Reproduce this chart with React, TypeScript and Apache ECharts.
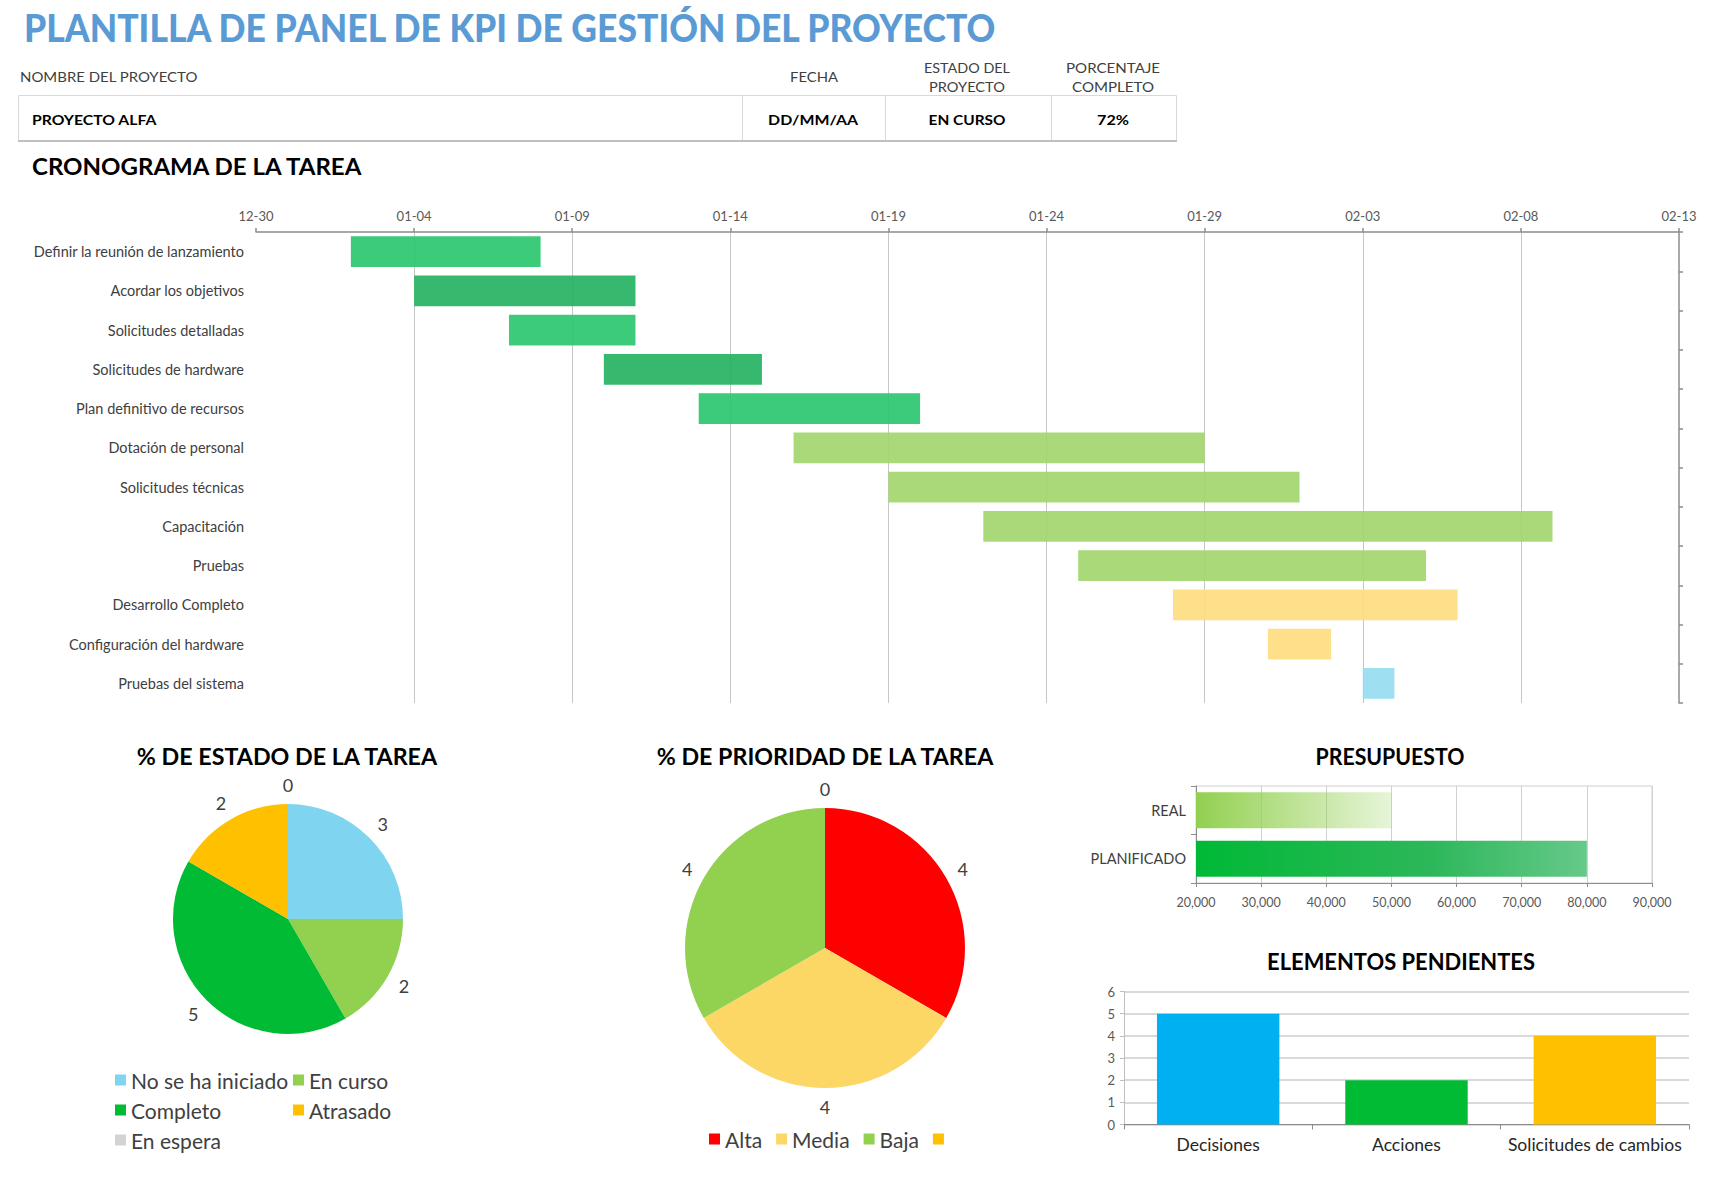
import React, { useEffect, useRef } from "react";
import * as echarts from "echarts";

// ---------- DATA ----------
const taskNames = [
  "Definir la reunión de lanzamiento",
  "Acordar los objetivos",
  "Solicitudes detalladas",
  "Solicitudes de hardware",
  "Plan definitivo de recursos",
  "Dotación de personal",
  "Solicitudes técnicas",
  "Capacitación",
  "Pruebas",
  "Desarrollo Completo",
  "Configuración del hardware",
  "Pruebas del sistema",
];
const taskStarts = [
  "2024-01-02", "2024-01-04", "2024-01-07", "2024-01-10", "2024-01-13", "2024-01-16",
  "2024-01-19", "2024-01-22", "2024-01-25", "2024-01-28", "2024-01-31", "2024-02-03",
];
const taskEnds = [
  "2024-01-08", "2024-01-11", "2024-01-11", "2024-01-15", "2024-01-20", "2024-01-29",
  "2024-02-01", "2024-02-09", "2024-02-05", "2024-02-06", "2024-02-02", "2024-02-04",
];
const taskGroups = [
  "done", "doneAlt", "done", "doneAlt", "done", "progress",
  "progress", "progress", "progress", "late", "late", "notStarted",
];
const timelineStart = "2023-12-30";
const timelineEnd = "2024-02-13";
const timelineStepDays = 5;

const statusNames = ["No se ha iniciado", "En curso", "Completo", "Atrasado", "En espera"];
const statusValues = [3, 2, 5, 2, 0];

const priorityNames = ["Alta", "Media", "Baja", " "];
const priorityValues = [4, 4, 4, 0];

const budgetCategories = ["REAL", "PLANIFICADO"];
const budgetValues = [50000, 80000];
const budgetMin = 20000;
const budgetMax = 90000;
const budgetStep = 10000;

const pendingCategories = ["Decisiones", "Acciones", "Solicitudes de cambios"];
const pendingValues = [5, 2, 4];
const pendingMax = 6;

const headerLabels = ["NOMBRE DEL PROYECTO", "FECHA", "ESTADO DEL", "PROYECTO", "PORCENTAJE", "COMPLETO"];
const headerValues = ["PROYECTO ALFA", "DD/MM/AA", "EN CURSO", "72%"];

// ---------- STYLES ----------
const GROUP_COLORS: Record<string, string> = {
  done: "#27c46d",
  doneAlt: "#20b15e",
  progress: "#a1d56a",
  late: "#fedd7e",
  notStarted: "#94dbf0",
};
const STATUS_COLORS = ["#7fd5f0", "#92d050", "#00bb33", "#ffc000", "#d3d3d3"];
const PRIORITY_COLORS = ["#ff0000", "#fdd766", "#92d050", "#ffc000"];
const PENDING_COLORS = ["#00b0f0", "#00bb33", "#ffc000"];
const FONT = "Lato";

const DAY = 86400000;
const t0 = Date.parse(timelineStart + "T00:00:00Z");
const dayOf = (s: string) => (Date.parse(s + "T00:00:00Z") - t0) / DAY;
const fmtDay = (v: number) => {
  const d = new Date(t0 + v * DAY);
  const mm = String(d.getUTCMonth() + 1).padStart(2, "0");
  const dd = String(d.getUTCDate()).padStart(2, "0");
  return `${mm}-${dd}`;
};

let measureCtx: CanvasRenderingContext2D | null = null;
function fitText(
  text: string,
  x: number,
  y: number,
  size: number,
  weight: string,
  color: string,
  align: string,
  width?: number
) {
  if (!measureCtx) measureCtx = document.createElement("canvas").getContext("2d");
  const font = `${weight} ${size}px ${FONT}`;
  let scaleX = 1;
  if (width && measureCtx) {
    measureCtx.font = font;
    const w = measureCtx.measureText(text).width;
    if (w > 0) scaleX = width / w;
  }
  return {
    type: "text",
    x,
    y,
    scaleX,
    silent: true,
    style: {
      text,
      font,
      fontSize: size,
      fontWeight: weight,
      fontFamily: FONT,
      fill: color,
      align,
      textAlign: align,
      verticalAlign: "middle",
      textVerticalAlign: "middle",
    },
  };
}

// center pie labels on their radial anchor point
const centerPieLabel = (p: any) => {
  const r = p.labelRect;
  const ax = p.align === "right" ? r.x + r.width : p.align === "center" ? r.x + r.width / 2 : r.x;
  return { x: ax, y: r.y + r.height / 2, align: "center", verticalAlign: "middle" };
};

function buildOption() {
  const starts = taskStarts.map(dayOf);
  const durations = taskEnds.map((e, i) => dayOf(e) - starts[i]);
  const span = dayOf(timelineEnd);

  const tableLine = "#d9d9d9";
  const graphics: any[] = [
    fitText("PLANTILLA DE PANEL DE KPI DE GESTIÓN DEL PROYECTO", 24, 28, 37, "900", "#5b9bd5", "left", 975),
    fitText(headerLabels[0], 20, 77, 13, "400", "#404040", "left", 178),
    fitText(headerLabels[1], 814, 77, 13, "400", "#404040", "center", 48),
    fitText(headerLabels[2], 967, 68, 13, "400", "#404040", "center", 86),
    fitText(headerLabels[3], 967, 87, 13, "400", "#404040", "center", 76),
    fitText(headerLabels[4], 1113, 68, 13, "400", "#404040", "center", 94),
    fitText(headerLabels[5], 1113, 87, 13, "400", "#404040", "center", 82),
    { type: "rect", shape: { x: 18.5, y: 95.5, width: 1158, height: 45 }, style: { fill: "none", stroke: tableLine, lineWidth: 1 }, silent: true },
    { type: "line", shape: { x1: 18, y1: 141, x2: 1177, y2: 141 }, style: { stroke: "#c0c0c0", lineWidth: 2 }, silent: true },
    { type: "line", shape: { x1: 742.5, y1: 96, x2: 742.5, y2: 140 }, style: { stroke: tableLine, lineWidth: 1 }, silent: true },
    { type: "line", shape: { x1: 885.5, y1: 96, x2: 885.5, y2: 140 }, style: { stroke: tableLine, lineWidth: 1 }, silent: true },
    { type: "line", shape: { x1: 1051.5, y1: 96, x2: 1051.5, y2: 140 }, style: { stroke: tableLine, lineWidth: 1 }, silent: true },
    fitText(headerValues[0], 32, 119, 14, "700", "#000000", "left", 125),
    fitText(headerValues[1], 813, 119, 14, "700", "#000000", "center", 90),
    fitText(headerValues[2], 967, 119, 14, "700", "#000000", "center", 77),
    fitText(headerValues[3], 1113, 119, 14, "700", "#000000", "center", 32),
    fitText("CRONOGRAMA DE LA TAREA", 32, 166, 23, "700", "#000000", "left", 332),
    fitText("% DE ESTADO DE LA TAREA", 287, 756, 23, "700", "#000000", "center", 302),
    fitText("% DE PRIORIDAD DE LA TAREA", 825, 756, 23, "700", "#000000", "center", 338),
    fitText("PRESUPUESTO", 1390, 756, 23, "700", "#000000", "center", 149),
    fitText("ELEMENTOS PENDIENTES", 1401, 961, 23, "700", "#000000", "center", 268),
  ];

  const axisGray = "#8c8c8c";
  const labelColor = "#404040";
  const legendText = { fontSize: 21, color: labelColor, fontFamily: FONT, lineHeight: 22 };

  return {
    animation: false,
    textStyle: { fontFamily: FONT },
    graphic: { elements: graphics },
    grid: [
      { left: 256, top: 232, width: 1423, height: 471 },
      { left: 1196, top: 786, width: 456, height: 97, show: true, borderColor: "#d0d0d0", borderWidth: 1 },
      { left: 1124, top: 991.5, width: 565, height: 133 },
    ],
    legend: [
      {
        data: [statusNames[0], statusNames[2], statusNames[4]],
        orient: "vertical",
        left: 115,
        top: 1069,
        padding: 0,
        itemGap: 8,
        itemWidth: 11,
        itemHeight: 11,
        icon: "rect",
        selectedMode: false,
        textStyle: legendText,
      },
      {
        data: [statusNames[1], statusNames[3]],
        orient: "vertical",
        left: 293,
        top: 1069,
        padding: 0,
        itemGap: 8,
        itemWidth: 11,
        itemHeight: 11,
        icon: "rect",
        selectedMode: false,
        textStyle: legendText,
      },
      {
        data: priorityNames,
        orient: "horizontal",
        left: 709,
        top: 1128,
        padding: 0,
        itemGap: 14,
        itemWidth: 11,
        itemHeight: 11,
        icon: "rect",
        selectedMode: false,
        textStyle: legendText,
      },
    ],
    xAxis: [
      {
        gridIndex: 0,
        type: "value",
        position: "top",
        min: 0,
        max: span,
        interval: timelineStepDays,
        axisLine: { show: true, lineStyle: { color: axisGray, width: 1.5 } },
        axisTick: { show: true, length: 4, lineStyle: { color: axisGray, width: 1.5 } },
        axisLabel: { formatter: (v: number) => fmtDay(v), fontSize: 13, color: "#595959", margin: 10, fontFamily: FONT },
        splitLine: { show: true, showMinLine: false, showMaxLine: false, lineStyle: { color: "#c6c6c6", width: 1 } },
      },
      {
        gridIndex: 1,
        type: "value",
        min: budgetMin,
        max: budgetMax,
        interval: budgetStep,
        axisLine: { show: true, lineStyle: { color: axisGray } },
        axisTick: { show: true, length: 4, lineStyle: { color: axisGray } },
        axisLabel: {
          formatter: (v: number) => v.toLocaleString("en-US"),
          fontSize: 12.5,
          color: "#595959",
          margin: 13,
          fontFamily: FONT,
        },
        splitLine: { show: true, lineStyle: { color: "#d0d0d0" } },
      },
      {
        gridIndex: 2,
        type: "category",
        data: pendingCategories,
        axisLine: { show: true, lineStyle: { color: axisGray } },
        axisTick: { show: true, length: 5, lineStyle: { color: axisGray } },
        axisLabel: { interval: 0, fontSize: 17.5, color: "#262626", margin: 11, fontFamily: FONT },
      },
    ],
    yAxis: [
      {
        gridIndex: 0,
        type: "category",
        data: taskNames,
        inverse: true,
        position: "left",
        axisLine: { show: false },
        axisTick: { show: false },
        axisLabel: { interval: 0, fontSize: 14.5, color: labelColor, margin: 12, fontFamily: FONT },
      },
      {
        gridIndex: 0,
        type: "category",
        data: taskNames,
        inverse: true,
        position: "right",
        axisLine: { show: true, lineStyle: { color: axisGray, width: 1.5 } },
        axisTick: { show: true, length: 4, lineStyle: { color: axisGray, width: 1.5 } },
        axisLabel: { show: false },
      },
      {
        gridIndex: 1,
        type: "category",
        data: budgetCategories,
        inverse: true,
        axisLine: { show: true, lineStyle: { color: axisGray } },
        axisTick: { show: true, length: 5, lineStyle: { color: axisGray } },
        axisLabel: { fontSize: 14.5, color: labelColor, margin: 10, fontFamily: FONT },
      },
      {
        gridIndex: 2,
        type: "value",
        min: 0,
        max: pendingMax,
        interval: 1,
        axisLine: { show: true, lineStyle: { color: "#bfbfbf" } },
        axisTick: { show: true, length: 4, lineStyle: { color: "#bfbfbf" } },
        axisLabel: { fontSize: 13, color: "#595959", margin: 9, fontFamily: FONT },
        splitLine: { show: true, lineStyle: { color: "#d9d9d9", width: 2 } },
      },
    ],
    series: [
      {
        type: "bar",
        name: "inicio",
        xAxisIndex: 0,
        yAxisIndex: 0,
        stack: "gantt",
        silent: true,
        barCategoryGap: "22%",
        itemStyle: { color: "transparent" },
        data: starts,
      },
      {
        type: "bar",
        name: "duración",
        xAxisIndex: 0,
        yAxisIndex: 0,
        stack: "gantt",
        barCategoryGap: "22%",
        itemStyle: { opacity: 0.9 },
        data: durations.map((d, i) => ({ value: d, itemStyle: { color: GROUP_COLORS[taskGroups[i]] } })),
      },
      {
        type: "pie",
        name: "estado",
        center: [288, 919],
        radius: 115,
        startAngle: 90,
        clockwise: true,
        avoidLabelOverlap: false,
        label: {
          show: true,
          position: "outside",
          formatter: "{c}",
          fontSize: 18,
          color: labelColor,
          fontFamily: FONT,
          distanceToLabelLine: 0,
        },
        labelLine: { show: false, length: 19, length2: 0 },
        labelLayout: centerPieLabel,
        emphasis: { disabled: true },
        data: statusNames.map((n, i) => ({ name: n, value: statusValues[i], itemStyle: { color: STATUS_COLORS[i] } })),
      },
      {
        type: "pie",
        name: "prioridad",
        center: [825, 948],
        radius: 140,
        startAngle: 90,
        clockwise: true,
        avoidLabelOverlap: false,
        label: {
          show: true,
          position: "outside",
          formatter: "{c}",
          fontSize: 18,
          color: labelColor,
          fontFamily: FONT,
          distanceToLabelLine: 0,
        },
        labelLine: { show: false, length: 19, length2: 0 },
        labelLayout: centerPieLabel,
        emphasis: { disabled: true },
        data: priorityNames.map((n, i) => ({ name: n, value: priorityValues[i], itemStyle: { color: PRIORITY_COLORS[i] } })),
      },
      {
        type: "bar",
        name: "presupuesto",
        xAxisIndex: 1,
        yAxisIndex: 2,
        barCategoryGap: "26%",
        data: budgetValues.map((v, i) => ({
          value: v,
          itemStyle: {
            color:
              i === 0
                ? new echarts.graphic.LinearGradient(0, 0, 1, 0, [
                    { offset: 0, color: "#92d050" },
                    { offset: 1, color: "rgba(146,208,80,0.22)" },
                  ])
                : new echarts.graphic.LinearGradient(0, 0, 1, 0, [
                    { offset: 0, color: "#00b936" },
                    { offset: 0.6, color: "#2db75a" },
                    { offset: 1, color: "#66c98a" },
                  ]),
          },
        })),
      },
      {
        type: "bar",
        name: "pendientes",
        xAxisIndex: 2,
        yAxisIndex: 3,
        barCategoryGap: "35%",
        data: pendingValues.map((v, i) => ({ value: v, itemStyle: { color: PENDING_COLORS[i] } })),
      },
    ],
  };
}

export default function App() {
  const ref = useRef<HTMLDivElement>(null);
  useEffect(() => {
    document.body.style.margin = "0";
    const chart = echarts.init(ref.current as HTMLDivElement, null, { renderer: "svg", width: 1722, height: 1180 });
    chart.setOption(buildOption() as any);
    return () => chart.dispose();
  }, []);
  return <div ref={ref} style={{ width: 1722, height: 1180, background: "#ffffff" }} />;
}
